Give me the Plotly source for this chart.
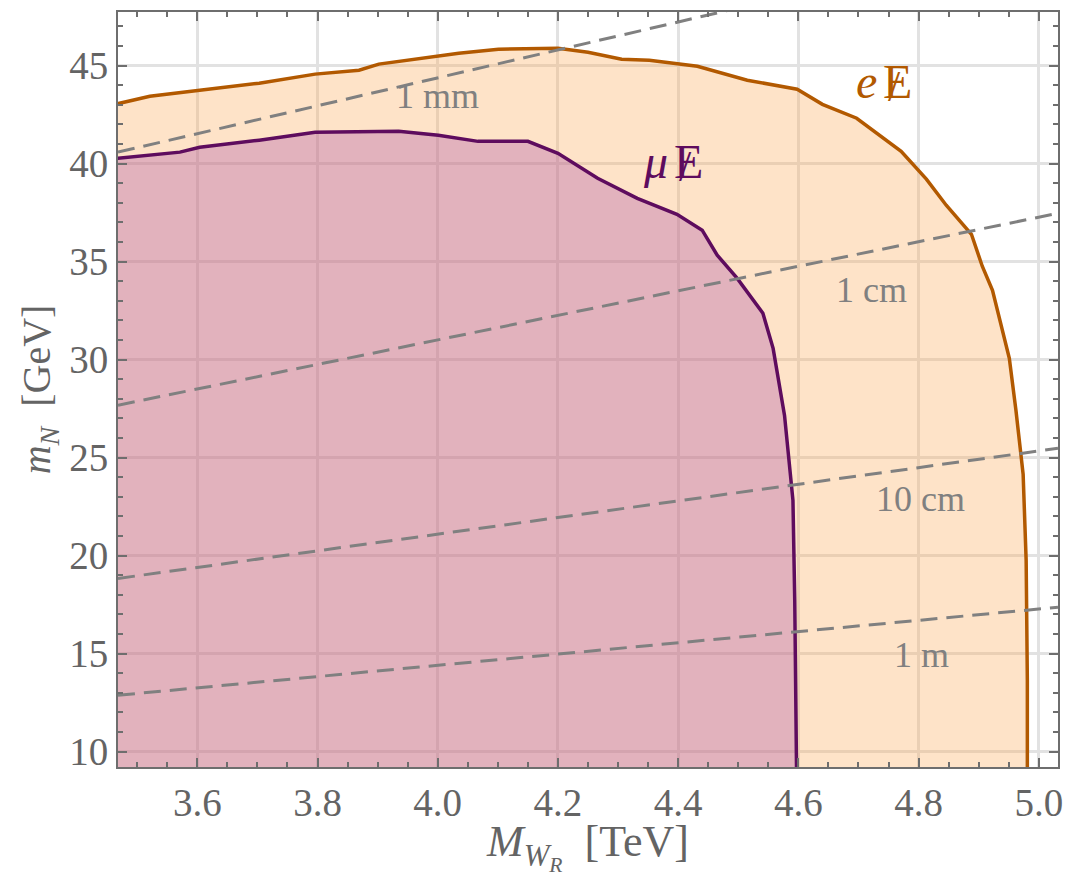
import plotly.graph_objects as go

# Exclusion boundaries in the (M_WR, m_N) plane
e_mwr = [3.460, 3.521, 3.604, 3.703, 3.796, 3.869, 3.902, 3.968, 4.035, 4.101,
         4.200, 4.250, 4.306, 4.352, 4.432, 4.515, 4.598, 4.640, 4.697, 4.771,
         4.813, 4.846, 4.888, 4.906, 4.923, 4.951, 4.962, 4.974, 4.979, 4.981, 4.981]
e_mn = [43.00, 43.43, 43.74, 44.10, 44.56, 44.76, 45.07, 45.37, 45.63, 45.83,
        45.88, 45.68, 45.32, 45.27, 44.96, 44.25, 43.79, 43.02, 42.31, 40.62,
        39.20, 37.87, 36.39, 34.76, 33.53, 30.06, 27.41, 24.14, 19.75, 13.63, 9.0]

mu_mwr = [3.460, 3.521, 3.571, 3.604, 3.703, 3.796, 3.935, 4.001, 4.067, 4.150,
          4.200, 4.266, 4.332, 4.398, 4.440, 4.465, 4.498, 4.541, 4.558, 4.577,
          4.591, 4.594, 4.597]
mu_mn = [40.25, 40.42, 40.58, 40.83, 41.19, 41.59, 41.65, 41.44, 41.13, 41.13,
         40.52, 39.25, 38.22, 37.41, 36.60, 35.32, 34.15, 32.36, 30.57, 27.15,
         22.81, 17.71, 9.0]

# Constant decay-length contours
length_labels = ["1 mm", "1 cm", "10 cm", "1 m"]
length_mwr = [[3.468, 4.498], [3.468, 5.032], [3.468, 5.032], [3.468, 5.032]]
length_mn = [[40.58, 47.92], [27.67, 37.46], [18.83, 25.47], [12.87, 17.36]]
label_mwr = [3.999, 4.722, 4.803, 4.805]
label_mn = [43.47, 33.53, 22.86, 14.90]

# Channel labels (position of the missing-energy symbol)
channel_lepton = ["μ", "e"]
channel_mwr = [4.418, 4.765]
channel_mn = [40.10, 44.20]

x_range = [3.468, 5.032]
y_range = [9.21, 47.73]

ORANGE = "rgb(178,89,0)"
PURPLE = "rgb(94,12,94)"
GRAY_TXT = "rgb(100,100,100)"
FRAME = "rgb(110,110,110)"
SERIF = "Liberation Serif, DejaVu Serif, serif"

fig = go.Figure()

fig.add_trace(go.Scatter(
    x=e_mwr, y=e_mn, mode="lines", fill="tozeroy",
    fillcolor="rgba(252,162,72,0.30)",
    line=dict(color=ORANGE, width=3.5), hoverinfo="skip", showlegend=False))

fig.add_trace(go.Scatter(
    x=mu_mwr, y=mu_mn, mode="lines", fill="tozeroy",
    fillcolor="rgba(161,67,167,0.30)",
    line=dict(color=PURPLE, width=3.5), hoverinfo="skip", showlegend=False))

for xs, ys in zip(length_mwr, length_mn):
    fig.add_trace(go.Scatter(
        x=xs, y=ys, mode="lines",
        line=dict(color="rgb(128,128,128)", width=3, dash="17px,9px"),
        hoverinfo="skip", showlegend=False))

for txt, xv, yv in zip(length_labels, label_mwr, label_mn):
    fig.add_annotation(x=xv, y=yv, text=txt, showarrow=False,
                       font=dict(family=SERIF, size=36, color="rgb(128,128,128)"))

# lepton symbol + slashed E, built from overlaid glyphs
for lep, xv, yv, col in zip(channel_lepton, channel_mwr, channel_mn, [PURPLE, ORANGE]):
    fig.add_annotation(x=xv, y=yv, text="E", showarrow=False, xanchor="center",
                       font=dict(family=SERIF, size=48, color=col))
    fig.add_annotation(x=xv, y=yv, text="/", showarrow=False, xanchor="center",
                       xshift=-3, yshift=-5,
                       font=dict(family=SERIF, size=44, color=col))
    fig.add_annotation(x=xv, y=yv, text=f"<i>{lep}</i>", showarrow=False,
                       xanchor="right", xshift=-19,
                       font=dict(family=SERIF, size=48, color=col))

axis_common = dict(
    showline=True, linecolor=FRAME, linewidth=2, mirror="ticks",
    ticks="inside", ticklen=9, tickwidth=1.5, tickcolor=FRAME,
    showgrid=True, gridcolor="rgb(226,226,226)", gridwidth=3,
    zeroline=False,
    tickfont=dict(family=SERIF, size=39, color=GRAY_TXT),
)

fig.update_xaxes(
    range=x_range, tick0=3.6, dtick=0.2, tickformat=".1f",
    minor=dict(ticks="inside", ticklen=5, dtick=0.05, tickcolor=FRAME, showgrid=False),
    title=dict(text="<i>M</i><sub><i>W<sub>R</sub></i></sub>  [TeV]",
               font=dict(family=SERIF, size=44, color=GRAY_TXT), standoff=10),
    **axis_common)
fig.update_yaxes(
    range=y_range, tick0=10, dtick=5,
    minor=dict(ticks="inside", ticklen=5, dtick=1, tickcolor=FRAME, showgrid=False),
    title=dict(text="<i>m</i><sub><i>N</i></sub>  [GeV]",
               font=dict(family=SERIF, size=40, color=GRAY_TXT), standoff=6),
    **axis_common)

fig.update_layout(
    width=1071, height=877,
    margin=dict(l=118, r=8, t=12, b=110),
    paper_bgcolor="white", plot_bgcolor="white",
)

fig.write_html("out.html")
